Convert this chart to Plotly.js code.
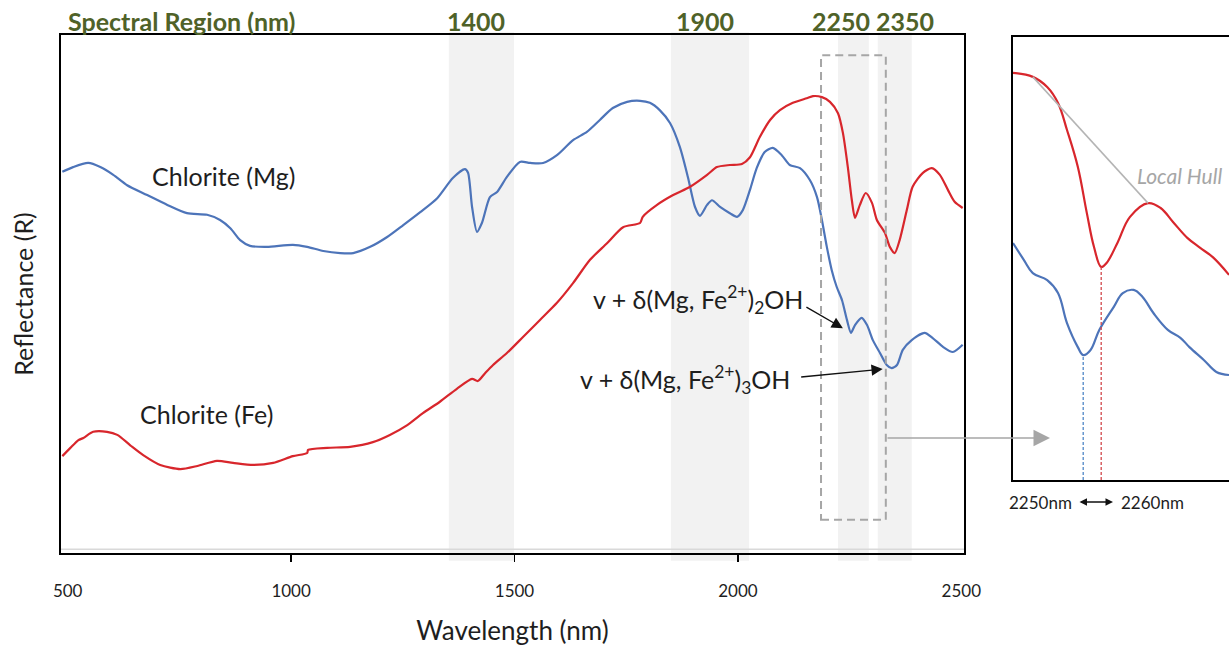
<!DOCTYPE html>
<html>
<head>
<meta charset="utf-8">
<script src="https://cdn.plot.ly/plotly-3.0.1.min.js"></script>
<style>
  html, body { margin: 0; padding: 0; background: #ffffff; }
  #chart { width: 1229px; height: 646px; }
</style>
</head>
<body>
<div id="chart"></div>
<script>
// Chlorite (Mg) reflectance spectrum
const mgWavelength = [488,512,546,573,602,633,678,723,767,812,841,864,886,908,946,1004,1036,1072,1110,1139,1177,1215,1251,1289,1327,1362,1389,1396,1405,1416,1427,1445,1461,1483,1512,1535,1564,1595,1631,1662,1691,1720,1752,1781,1803,1825,1848,1870,1888,1904,1915,1931,1942,1960,1982,1998,2011,2027,2042,2060,2078,2098,2116,2139,2161,2177,2188,2199,2210,2221,2233,2244,2253,2262,2277,2289,2302,2318,2333,2344,2356,2369,2389,2418,2436,2459,2481,2503];
const mgReflectance = [0.736,0.745,0.753,0.745,0.730,0.710,0.691,0.672,0.656,0.653,0.643,0.627,0.604,0.593,0.591,0.595,0.591,0.583,0.579,0.579,0.591,0.610,0.633,0.658,0.685,0.724,0.741,0.734,0.668,0.620,0.637,0.687,0.697,0.726,0.755,0.753,0.753,0.768,0.797,0.813,0.836,0.859,0.871,0.873,0.869,0.855,0.830,0.784,0.726,0.668,0.651,0.672,0.681,0.668,0.656,0.649,0.662,0.701,0.743,0.774,0.782,0.768,0.749,0.743,0.720,0.687,0.643,0.591,0.546,0.514,0.488,0.450,0.425,0.440,0.454,0.440,0.411,0.386,0.363,0.357,0.363,0.392,0.411,0.425,0.415,0.398,0.388,0.402];

// Chlorite (Fe) reflectance spectrum
const feWavelength = [488,506,524,535,557,588,611,640,669,707,752,790,834,870,915,960,1004,1036,1038,1081,1132,1183,1221,1260,1295,1333,1371,1405,1418,1434,1452,1483,1519,1557,1595,1631,1669,1707,1743,1781,1787,1819,1855,1893,1931,1953,1982,2009,2027,2049,2072,2094,2123,2154,2168,2188,2206,2224,2235,2246,2255,2262,2273,2286,2300,2311,2329,2340,2351,2362,2378,2391,2414,2434,2452,2470,2485,2503];
const feReflectance = [0.187,0.203,0.218,0.222,0.234,0.234,0.228,0.208,0.189,0.170,0.162,0.168,0.178,0.174,0.170,0.174,0.187,0.193,0.199,0.203,0.205,0.214,0.228,0.247,0.270,0.292,0.317,0.336,0.332,0.347,0.363,0.386,0.417,0.450,0.483,0.521,0.566,0.598,0.629,0.637,0.649,0.672,0.691,0.707,0.730,0.745,0.749,0.751,0.764,0.803,0.836,0.855,0.869,0.878,0.882,0.880,0.871,0.849,0.811,0.745,0.681,0.647,0.672,0.695,0.676,0.643,0.618,0.591,0.579,0.604,0.662,0.707,0.734,0.743,0.730,0.701,0.678,0.666];

// Detail of the 2210-2330 nm window (continuum-stretched)
const insetFeWavelength = [2211,2222,2230,2236,2241,2247,2252,2256,2260,2263,2269,2276,2286,2293,2300,2308,2315,2322,2331];
const insetFeReflectance = [0.919,0.910,0.887,0.851,0.790,0.707,0.603,0.526,0.481,0.490,0.535,0.594,0.625,0.614,0.582,0.546,0.524,0.503,0.463];
const insetMgWavelength = [2211,2217,2222,2230,2236,2241,2247,2250,2254,2259,2267,2272,2278,2283,2289,2297,2304,2309,2317,2324,2331];
const insetMgReflectance = [0.535,0.497,0.467,0.451,0.422,0.354,0.300,0.282,0.293,0.339,0.391,0.422,0.429,0.413,0.377,0.339,0.321,0.300,0.271,0.244,0.237];

// Spectral regions of interest (nm)
const regionLabels = ['1400', '1900', '2250', '2350'];
const regionStart = [1353, 1850, 2224, 2313];
const regionEnd = [1499, 2025, 2293, 2389];

// Wavelength axis labels
const tickValues = [500, 1000, 1500, 2000, 2500];
const tickLabels = ['500', '1000', '1500', '2000', '2500'];

const BLUE = '#4d74b9';
const RED = '#d8262c';
const OLIVE = '#4f6228';
const GREY = '#a6a6a6';
const TEXT = '#1e1e1e';
const FONT = 'Lato, "Open Sans", sans-serif';

// index of the lowest / highest value whose wavelength lies in [lo, hi]
function extremeIn(wl, values, lo, hi, pickLow) {
  let k = -1;
  values.forEach((v, i) => {
    if (wl[i] < lo || wl[i] > hi) return;
    if (k < 0 || (pickLow ? v < values[k] : v > values[k])) k = i;
  });
  return k;
}

const traces = [
  { x: mgWavelength, y: mgReflectance, type: 'scatter', mode: 'lines', name: 'Chlorite (Mg)',
    line: { color: BLUE, width: 2.2, shape: 'spline', smoothing: 0.7 }, xaxis: 'x', yaxis: 'y', hoverinfo: 'x+y' },
  { x: feWavelength, y: feReflectance, type: 'scatter', mode: 'lines', name: 'Chlorite (Fe)',
    line: { color: RED, width: 2.2, shape: 'spline', smoothing: 0.7 }, xaxis: 'x', yaxis: 'y', hoverinfo: 'x+y' },
  { x: insetFeWavelength, y: insetFeReflectance, type: 'scatter', mode: 'lines', name: 'Chlorite (Fe) detail',
    line: { color: RED, width: 2.2, shape: 'spline', smoothing: 1.1 }, xaxis: 'x2', yaxis: 'y2', hoverinfo: 'x+y' },
  { x: insetMgWavelength, y: insetMgReflectance, type: 'scatter', mode: 'lines', name: 'Chlorite (Mg) detail',
    line: { color: BLUE, width: 2.2, shape: 'spline', smoothing: 1.1 }, xaxis: 'x2', yaxis: 'y2', hoverinfo: 'x+y' }
];

// absorption minima near 2250-2260 nm and the hull over the Fe feature
const mgMin = extremeIn(insetMgWavelength, insetMgReflectance, 2240, 2270, true);
const feMin = extremeIn(insetFeWavelength, insetFeReflectance, 2240, 2270, true);
const feShoulder = 1;
const fePeak = extremeIn(insetFeWavelength, insetFeReflectance, 2270, 2300, false);

const shapes = [];
regionLabels.forEach((_, i) => {
  shapes.push({ type: 'rect', xref: 'x', yref: 'paper', x0: regionStart[i], x1: regionEnd[i],
    y0: 0.132, y1: 0.950, fillcolor: '#f2f2f2', line: { width: 0 }, layer: 'below' });
});
shapes.push(
  // faint baseline just above the frame
  { type: 'line', xref: 'paper', yref: 'y', x0: 0.0496, x1: 0.7844, y0: 0.007, y1: 0.007,
    line: { color: '#d9d9d9', width: 1.5 }, layer: 'below' },
  // window that is enlarged on the right
  { type: 'rect', xref: 'x', yref: 'y', x0: 2186, x1: 2331, y0: 0.064, y1: 0.961,
    line: { color: GREY, width: 2, dash: '8px,5px' }, fillcolor: 'rgba(0,0,0,0)' },
  // minima markers
  { type: 'line', xref: 'x2', yref: 'y2', x0: insetMgWavelength[mgMin], x1: insetMgWavelength[mgMin],
    y0: 0, y1: insetMgReflectance[mgMin], line: { color: '#4f86c6', width: 1.3, dash: '3px,2px' } },
  { type: 'line', xref: 'x2', yref: 'y2', x0: insetFeWavelength[feMin], x1: insetFeWavelength[feMin],
    y0: 0, y1: insetFeReflectance[feMin], line: { color: '#d2474b', width: 1.3, dash: '3px,2px' } },
  // local hull over the Fe absorption
  { type: 'line', xref: 'x2', yref: 'y2', x0: insetFeWavelength[feShoulder], y0: insetFeReflectance[feShoulder],
    x1: insetFeWavelength[fePeak], y1: insetFeReflectance[fePeak],
    line: { color: '#b4b4b4', width: 1.5 } }
);

const annotations = [
  { xref: 'paper', yref: 'paper', x: 66 / 1229, y: (646 - 21) / 646, xanchor: 'left', yanchor: 'middle',
    text: '<b>Spectral Region (nm)</b>', showarrow: false, font: { family: FONT, size: 25, color: OLIVE } }
];
const regionLabelAt = [1414, 1926, 2230, 2375];
regionLabels.forEach((lab, i) => {
  annotations.push({ xref: 'x', yref: 'paper', x: regionLabelAt[i], y: (646 - 21) / 646,
    xanchor: 'center', yanchor: 'middle', text: '<b>' + lab + '</b>', showarrow: false,
    font: { family: FONT, size: 25, color: OLIVE } });
});
annotations.push(
  { xref: 'x', yref: 'y', x: 848, y: 0.728, text: 'Chlorite (Mg)', showarrow: false,
    font: { family: FONT, size: 25, color: TEXT } },
  { xref: 'x', yref: 'y', x: 810, y: 0.268, text: 'Chlorite (Fe)', showarrow: false,
    font: { family: FONT, size: 25, color: TEXT } },
  { xref: 'x', yref: 'y', x: 1910, y: 0.490, text: 'v + δ(Mg, Fe<sup>2+</sup>)<sub>2</sub>OH', showarrow: false,
    font: { family: FONT, size: 25, color: TEXT } },
  { xref: 'x', yref: 'y', x: 1881, y: 0.334, text: 'v + δ(Mg, Fe<sup>2+</sup>)<sub>3</sub>OH', showarrow: false,
    font: { family: FONT, size: 25, color: TEXT } },
  // pointers to the two Mg-OH features
  { xref: 'x', yref: 'y', x: 2235, y: 0.434, ax: -38, ay: -22, text: '', showarrow: true,
    arrowhead: 2, arrowsize: 1.6, arrowwidth: 1.4, arrowcolor: '#111111' },
  { xref: 'x', yref: 'y', x: 2324, y: 0.355, ax: -83, ay: 8, text: '', showarrow: true,
    arrowhead: 2, arrowsize: 1.6, arrowwidth: 1.4, arrowcolor: '#111111' },
  // link from the window to the detail panel
  { xref: 'paper', yref: 'paper', x: 1050 / 1229, y: (646 - 438) / 646, ax: -164, ay: 0, text: '',
    showarrow: true, arrowhead: 2, arrowsize: 2.2, arrowwidth: 1.5, arrowcolor: GREY },
  { xref: 'x2', yref: 'y2', x: 2279, y: 0.688, xanchor: 'left', yanchor: 'middle', text: '<i>Local Hull</i>',
    showarrow: false, font: { family: FONT, size: 21, color: GREY } },
  { xref: 'paper', yref: 'paper', x: 1074 / 1229, y: (646 - 502) / 646, xanchor: 'right', yanchor: 'middle',
    text: insetMgWavelength[mgMin] + 'nm', showarrow: false, font: { family: FONT, size: 17, color: TEXT } },
  { xref: 'paper', yref: 'paper', x: 1119 / 1229, y: (646 - 502) / 646, xanchor: 'left', yanchor: 'middle',
    text: insetFeWavelength[feMin] + 'nm', showarrow: false, font: { family: FONT, size: 17, color: TEXT } },
  { xref: 'paper', yref: 'paper', x: 1113 / 1229, y: (646 - 502) / 646, ax: -35, ay: 0, text: '',
    showarrow: true, arrowside: 'end+start', arrowhead: 2, arrowsize: 1, arrowwidth: 1.5, arrowcolor: '#111111' }
);

const layout = {
  width: 1229, height: 646,
  margin: { l: 0, r: 0, t: 0, b: 0 },
  paper_bgcolor: '#ffffff', plot_bgcolor: 'rgba(0,0,0,0)',
  showlegend: false,
  font: { family: FONT, color: TEXT },
  xaxis: {
    domain: [61 / 1229, 964 / 1229], range: [485, 2506], anchor: 'y',
    showline: true, mirror: true, linecolor: '#000000', linewidth: 2,
    showgrid: false, zeroline: false,
    tickmode: 'array', tickvals: tickValues, ticktext: tickLabels, ticks: '',
    ticklabelstandoff: 22, tickfont: { family: FONT, size: 17, color: TEXT },
    minor: { tickmode: 'array', tickvals: [1000, 1500, 2000], ticks: 'outside', ticklen: 7, tickcolor: '#000000', tickwidth: 1.3 },
    title: { text: 'Wavelength (nm)', font: { family: FONT, size: 26, color: TEXT }, standoff: 22 },
    automargin: false
  },
  yaxis: {
    domain: [(646 - 553) / 646, (646 - 35) / 646], range: [0, 1], anchor: 'x',
    showline: true, mirror: true, linecolor: '#000000', linewidth: 2,
    showgrid: false, zeroline: false, showticklabels: false, ticks: '',
    title: { text: 'Reflectance (R)', font: { family: FONT, size: 25, color: TEXT }, standoff: 18 },
    automargin: false
  },
  xaxis2: {
    domain: [1013 / 1229, 1], range: [2211, 2331], anchor: 'y2',
    showline: true, mirror: true, linecolor: '#000000', linewidth: 2,
    showgrid: false, zeroline: false, showticklabels: false, ticks: '', automargin: false
  },
  yaxis2: {
    domain: [(646 - 480) / 646, (646 - 37) / 646], range: [0, 1], anchor: 'x2',
    showline: true, linecolor: '#000000', linewidth: 2,
    showgrid: false, zeroline: false, showticklabels: false, ticks: '', automargin: false
  },
  shapes: shapes,
  annotations: annotations
};

Plotly.newPlot('chart', traces, layout, { displayModeBar: false, staticPlot: true });
</script>
</body>
</html>
